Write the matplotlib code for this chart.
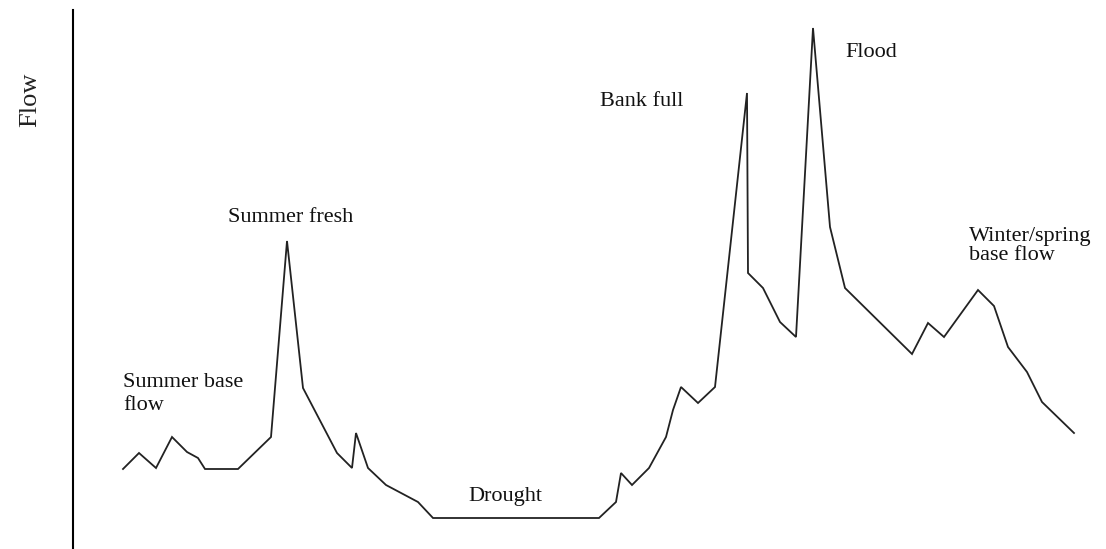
import matplotlib.pyplot as plt

# hydrograph vertices (time in arbitrary units, flow in arbitrary units)
day = [50, 66, 83, 99, 114, 125, 132, 165, 198, 214, 230, 264, 279, 283, 295, 313, 345, 360,
       526, 543, 548, 559, 576, 593, 600, 608, 625, 642, 674, 675, 690, 707, 723, 740, 757, 772,
       839, 855, 871, 905, 921, 935, 954, 969, 1001]
flow = [80, 96, 81, 112, 97, 91, 80, 80, 112, 308, 161, 96, 81, 116, 81, 64, 47, 31,
        31, 47, 76, 64, 81, 112, 139, 162, 146, 162, 456, 276, 261, 227, 212, 521, 322, 261,
        195, 226, 212, 259, 243, 202, 177, 147, 116]

labels = ["Summer base\nflow", "Summer fresh", "Drought", "Bank full", "Flood", "Winter/spring\nbase flow"]
label_x = [50, 155, 395, 527, 772, 896]
label_y = [176, 327, 48, 443, 492, 322]
label_va = ["top", "baseline", "baseline", "baseline", "baseline", "top"]
label_ls = [1.3, 1.0, 1.0, 1.0, 1.0, 1.0]

plt.rcParams['font.family'] = ['Liberation Serif', 'DejaVu Serif']

fig = plt.figure(figsize=(11.06, 5.49), dpi=100)
ax = fig.add_axes([73 / 1106, 0, 1 - 73 / 1106, 539 / 549])

ax.plot(day, flow, color='#222222', lw=1.3, solid_joinstyle='miter')

for txt, x, y, va, ls in zip(labels, label_x, label_y, label_va, label_ls):
	ax.text(x, y, txt, fontsize=16, ha='left', va=va, linespacing=ls, color='#111111')

ax.set_xlim(0, 1033)
ax.set_ylim(0, 539)
for side in ['top', 'right', 'bottom']:
	ax.spines[side].set_visible(False)
ax.spines['left'].set_linewidth(1.5)
ax.set_xticks([])
ax.set_yticks([])

fig.text(30 / 1106, 1 - 100 / 549, "Flow", rotation=90, fontsize=19, ha='center', va='center', color='#222222')

fig.savefig("out.png", dpi=100)
